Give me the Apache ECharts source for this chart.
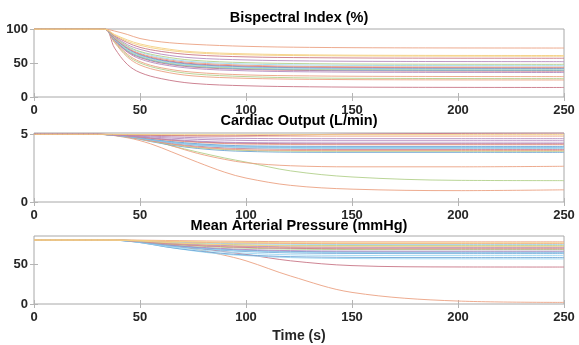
<!DOCTYPE html>
<html>
<head>
<meta charset="utf-8">
<script src="https://cdn.jsdelivr.net/npm/echarts@6/dist/echarts.min.js"></script>
<style>
html,body{margin:0;padding:0;background:#fff;}
#chart{width:579px;height:345px;}
</style>
</head>
<body>
<div id="chart"></div>
<script>
// ---- data ----
const xTicks = [0, 50, 100, 150, 200, 250];
const bisTicks = [0, 50, 100];
const coTicks = [0, 5];
const mapTicks = [0, 50];

const titles = ['Bispectral Index (%)', 'Cardiac Output (L/min)', 'Mean Arterial Pressure (mmHg)'];
const xLabel = 'Time (s)';

// Bispectral index, sampled at bisTimes
const bisTimes = [0, 33, 38, 44, 50, 60, 75, 100, 130, 170, 250];
const bisValues = [
  [100,100,97,92,86,81,77.5,74.5,73,72.3,72],
  [100,100,92,84,78,72,66.5,63.5,62,61.3,61],
  [100,100,91,82,76,70,65,62,60.8,60.2,60],
  [100,100,90,80,73,67,62,59,57.8,57.2,57],
  [100,100,89,77,70,63,57.5,54.5,53,52.3,52],
  [100,100,88,75,67,60,54,50.5,49,48.3,48],
  [100,100,88,74,66,58,52,48.5,47,46.3,46],
  [100,100,87,73,64,56.5,50.5,46.8,45,44.3,44],
  [100,100,86,72,63,55,49,45.5,44,43.3,43],
  [100,100,86,71,62,54,48,44.5,43,42.3,42],
  [100,100,85,70,61,53,47,43.5,42,41.3,41],
  [100,100,85,69,60,52,46,42.5,41,40.3,40],
  [100,100,84,68,59,51,45,41.5,40,39.3,39],
  [100,100,84,67,58,50,44,40.5,39,38.3,38],
  [100,100,83,66,56,48,42,38.5,37,36.3,36],
  [100,100,82,63,52,43,36.5,32.5,31,30.3,30],
  [100,100,81,61,50,41,34,30,28,27.3,27],
  [100,100,80,59,47,38,31,27.5,26,25.3,25],
  [100,100,72,48,36,27,20,16.5,15,14.3,14]
];
const bisColorIdx = [1,2,2,6,3,4,5,1,6,0,5,4,0,6,3,1,4,1,6];

// Cardiac output, sampled at coTimes
const coTimes = [0, 30, 44, 55, 65, 77, 90, 100, 121, 150, 200, 250];
const coValues = [
  [5,5,4.97,4.93,4.9,4.88,4.88,4.9,4.95,5.02,5.07,5.1],
  [5,5,4.99,4.98,4.98,4.98,4.98,4.98,4.98,4.98,4.98,4.98],
  [5,5,4.98,4.95,4.92,4.9,4.88,4.87,4.87,4.87,4.87,4.87],
  [5,5,4.95,4.87,4.81,4.75,4.71,4.7,4.68,4.68,4.68,4.68],
  [5,5,4.93,4.81,4.72,4.63,4.58,4.55,4.53,4.53,4.53,4.53],
  [5,5,4.9,4.74,4.62,4.5,4.42,4.39,4.37,4.36,4.36,4.36],
  [5,5,4.9,4.72,4.58,4.45,4.37,4.34,4.31,4.3,4.3,4.3],
  [5,5,4.89,4.7,4.54,4.41,4.32,4.28,4.25,4.24,4.24,4.24],
  [5,5,4.87,4.64,4.47,4.31,4.2,4.15,4.12,4.11,4.11,4.11],
  [5,5,4.86,4.62,4.43,4.26,4.15,4.1,4.06,4.05,4.05,4.05],
  [5,5,4.85,4.61,4.41,4.24,4.12,4.07,4.03,4.02,4.02,4.02],
  [5,5,4.84,4.58,4.37,4.18,4.06,4.0,3.96,3.95,3.95,3.95],
  [5,5,4.83,4.56,4.33,4.13,4.0,3.95,3.9,3.89,3.89,3.89],
  [5,5,4.82,4.52,4.28,4.06,3.92,3.86,3.81,3.8,3.8,3.8],
  [5,5,4.81,4.5,4.25,4.02,3.88,3.81,3.76,3.75,3.75,3.75],
  [5,5,4.8,4.47,4.2,3.96,3.8,3.74,3.68,3.67,3.67,3.67],
  [5,5,4.85,4.6,4.15,3.6,3.15,2.9,2.68,2.6,2.6,2.64],
  [5,5,4.85,4.55,4.15,3.7,3.25,2.95,2.3,1.85,1.6,1.58],
  [5,5,4.75,4.3,3.7,2.95,2.2,1.77,1.23,0.95,0.84,0.9]
];
const coColorIdx = [6,2,1,3,3,3,6,1,0,5,0,5,6,1,4,0,1,4,1];

// Mean arterial pressure, sampled at mapTimes
const mapTimes = [0, 35, 50, 62, 75, 88, 100, 121, 150, 200, 250];
const mapValues = [
  [80,80,79.8,79.4,79,78.6,78.3,77.9,77.7,77.7,77.7],
  [80,80,79.5,78.6,77.9,77.3,76.9,76.6,76.4,76.4,76.4],
  [80,80,79.3,78.2,77.3,76.6,76.2,75.7,75.5,75.5,75.5],
  [80,80,79.1,77.7,76.6,75.7,75.2,74.6,74.35,74.3,74.3],
  [80,80,79,77.2,75.8,74.8,74,73.3,73.1,73,73],
  [80,80,78.8,76.9,75.3,74.2,73.4,72.6,72.3,72.2,72.2],
  [80,80,78.7,76.4,74.6,73.3,72.4,71.5,71.1,71,71],
  [80,80,78.5,76,74,72.6,71.6,70.6,70.2,70.1,70.1],
  [80,80,78.4,75.6,73.4,71.8,70.7,69.6,69.1,69,69],
  [80,80,78.2,75.2,72.8,71,69.8,68.6,68.1,68,68],
  [80,80,77.9,74.4,71.6,69.5,68.1,66.7,66.1,66,66],
  [80,80,77.8,74,71,68.8,67.3,65.8,65.2,65,65],
  [80,80,77.6,73.6,70.4,68,66.4,64.8,64.2,64,64],
  [80,80,77.5,73.2,69.8,67.3,65.6,63.9,63.2,63,63],
  [80,80,77.1,72.2,68.3,65.4,63.5,61.5,60.7,60.5,60.5],
  [80,80,76.8,71.5,67,63.5,61.3,59.2,58.3,58,58],
  [80,80,76.8,71.5,66.5,62.5,60.5,58,56.8,56.4,56.3],
  [80,80,77.5,74.5,70.5,66,62,54,48,46.3,46.2],
  [80,80,78.5,74.5,69,62,54,35,14.5,3.7,2]
];
const mapColorIdx = [1,2,1,5,4,2,3,1,6,4,3,0,5,0,5,0,5,6,1];

// MATLAB default line colours, lightened (as they appear thin in the picture)
const palette = ['#6FA5D6','#EBA283','#F4D083','#B58CBF','#B3D08C','#9DD8F2','#C97787'];
const YELLOW = 2;

// ---- layout ----
const FONT = '"Liberation Sans", Arial, sans-serif';
const grids = [
  {left: 34, right: 15, top: 29, height: 68},
  {left: 34, right: 15, top: 133, height: 69},
  {left: 34, right: 15, top: 236, height: 68}
];
const yRanges = [[0, 100, 50, bisTicks], [0, 5.1, 5, coTicks], [0, 85, 50, mapTicks]];

const tickStyle = {color: '#b4b4b4', width: 1};
const labelStyle = {fontFamily: FONT, fontWeight: 'bold', fontSize: 13, color: '#262626'};

const xAxes = [], yAxes = [];
grids.forEach((g, i) => {
  ['bottom', 'top'].forEach(pos => {
    xAxes.push({
      type: 'value', gridIndex: i, position: pos, min: 0, max: 250, interval: 50,
      axisLine: {show: false},
      axisTick: {show: true, inside: true, length: 4, lineStyle: tickStyle, customValues: xTicks},
      axisLabel: Object.assign({show: pos === 'bottom', margin: 7, customValues: xTicks}, labelStyle),
      splitLine: {show: false}
    });
  });
  const [mn, mx, iv, tk] = yRanges[i];
  ['left', 'right'].forEach(pos => {
    yAxes.push({
      type: 'value', gridIndex: i, position: pos, min: mn, max: mx, interval: iv,
      axisLine: {show: false},
      axisTick: {show: true, inside: true, length: 4, lineStyle: tickStyle, customValues: tk},
      axisLabel: Object.assign({show: pos === 'left', margin: 6, customValues: tk}, labelStyle),
      splitLine: {show: false}
    });
  });
});

const series = [];
function addPanel(times, values, colorIdx, panel) {
  // non-yellow lines first, yellow lines drawn on top
  const order = values.map((v, k) => k)
    .sort((a, b) => (colorIdx[a] === YELLOW) - (colorIdx[b] === YELLOW) || b - a);
  order.forEach(k => {
    series.push({
      type: 'line',
      xAxisIndex: panel * 2, yAxisIndex: panel * 2,
      data: times.map((t, j) => [t, values[k][j]]),
      showSymbol: false, smooth: 0.35, silent: true,
      lineStyle: {width: 1, color: palette[colorIdx[k]], opacity: 0.9},
      animation: false
    });
  });
}
addPanel(bisTimes, bisValues, bisColorIdx, 0);
addPanel(coTimes, coValues, coColorIdx, 1);
addPanel(mapTimes, mapValues, mapColorIdx, 2);

const titleY = [18, 121, 226];
const graphic = titles.map((t, i) => ({
  type: 'text', x: 299, y: titleY[i],
  style: {text: t, textAlign: 'center', textVerticalAlign: 'middle',
          font: 'bold 14.5px ' + FONT, fill: '#000'}
}));
graphic.push({
  type: 'text', x: 299, y: 336,
  style: {text: xLabel, textAlign: 'center', textVerticalAlign: 'middle',
          font: 'bold 14px ' + FONT, fill: '#262626'}
});

const chart = echarts.init(document.getElementById('chart'), null, {renderer: 'canvas'});
chart.setOption({
  animation: false,
  backgroundColor: '#fff',
  grid: grids.map(g => Object.assign({show: true, borderColor: '#a8a8a8', borderWidth: 1, backgroundColor: 'transparent'}, g)),
  xAxis: xAxes,
  yAxis: yAxes,
  series: series,
  graphic: graphic
});
</script>
</body>
</html>
